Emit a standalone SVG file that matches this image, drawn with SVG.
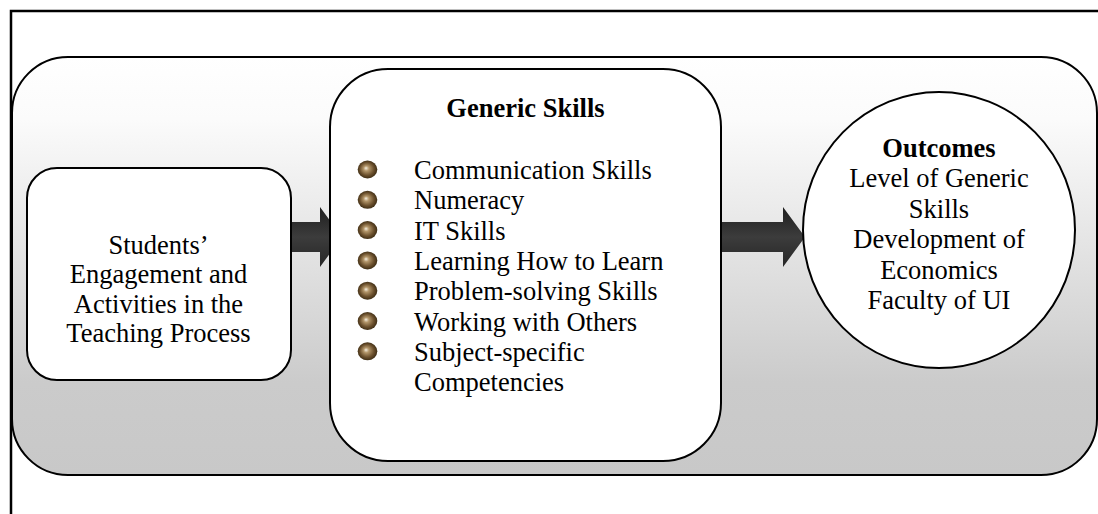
<svg xmlns="http://www.w3.org/2000/svg" width="1098" height="514" viewBox="0 0 1098 514">
  <defs>
    <linearGradient id="panelFill" x1="0" y1="0" x2="0" y2="1">
      <stop offset="0" stop-color="#ffffff"/>
      <stop offset="0.15" stop-color="#fbfbfb"/>
      <stop offset="0.78" stop-color="#cbcbcb"/>
      <stop offset="1" stop-color="#c8c8c8"/>
    </linearGradient>
    <linearGradient id="arrowFill" x1="0" y1="0" x2="0" y2="1">
      <stop offset="0" stop-color="#1e1e1e"/>
      <stop offset="0.5" stop-color="#3c3c3c"/>
      <stop offset="1" stop-color="#262626"/>
    </linearGradient>
    <radialGradient id="bead" cx="0.5" cy="0.5" r="0.55" fx="0.42" fy="0.42">
      <stop offset="0" stop-color="#f6efe0"/>
      <stop offset="0.25" stop-color="#b3966a"/>
      <stop offset="0.65" stop-color="#6a4f2c"/>
      <stop offset="1" stop-color="#33250f"/>
    </radialGradient>
    <symbol id="bullet" overflow="visible">
      <ellipse cx="0" cy="0" rx="9.8" ry="9" fill="url(#bead)"/>
    </symbol>
  </defs>
  <style>
    .box { fill: #ffffff; stroke: #000000; stroke-width: 2; }
    .txt { font-family: "Liberation Serif", "Times New Roman", serif; font-size: 26.5px; fill: #000000; }
    .mid { text-anchor: middle; }
    .bold { font-weight: bold; }
    .arrow { fill: url(#arrowFill); }
  </style>

  <rect width="1098" height="514" fill="#ffffff"/>

  <!-- outer frame -->
  <rect id="frame" x="11" y="11" width="1110" height="530" fill="none" stroke="#000000" stroke-width="2.5"/>

  <!-- background panel -->
  <rect id="panel" x="12" y="57" width="1085" height="418" rx="56" ry="56" fill="url(#panelFill)" stroke="#000000" stroke-width="2"/>

  <!-- connectors (drawn under the nodes) -->
  <g id="connectors">
    <path class="arrow" d="M 285 222 L 320 222 L 320 207 L 342 237 L 320 267 L 320 252 L 285 252 Z"/>
    <path class="arrow" d="M 718 222 L 783 222 L 783 207 L 805 237 L 783 267 L 783 252 L 718 252 Z"/>
  </g>

  <!-- input node -->
  <g id="engagement">
    <rect class="box" x="27" y="168" width="264" height="212" rx="30" ry="30"/>
    <text class="txt mid" x="158.5" y="254">Students’</text>
    <text class="txt mid" x="158.5" y="283.3">Engagement and</text>
    <text class="txt mid" x="158.5" y="312.6">Activities in the</text>
    <text class="txt mid" x="158.5" y="341.9">Teaching Process</text>
  </g>

  <!-- generic skills node -->
  <g id="generic-skills">
    <rect class="box" x="330" y="69" width="391" height="392" rx="58" ry="58"/>
    <text class="txt mid bold" x="525.5" y="117">Generic Skills</text>
    <use href="#bullet" x="367.5" y="169.5"/>
    <use href="#bullet" x="367.5" y="199.8"/>
    <use href="#bullet" x="367.5" y="230.1"/>
    <use href="#bullet" x="367.5" y="260.4"/>
    <use href="#bullet" x="367.5" y="290.7"/>
    <use href="#bullet" x="367.5" y="321"/>
    <use href="#bullet" x="367.5" y="351.3"/>
    <text class="txt" x="414" y="179">Communication Skills</text>
    <text class="txt" x="414" y="209.3">Numeracy</text>
    <text class="txt" x="414" y="239.6">IT Skills</text>
    <text class="txt" x="414" y="269.9">Learning How to Learn</text>
    <text class="txt" x="414" y="300.2">Problem-solving Skills</text>
    <text class="txt" x="414" y="330.5">Working with Others</text>
    <text class="txt" x="414" y="360.8">Subject-specific</text>
    <text class="txt" x="414" y="391.1">Competencies</text>
  </g>

  <!-- outcomes node -->
  <g id="outcomes">
    <ellipse class="box" cx="939" cy="230" rx="136" ry="138"/>
    <text class="txt mid bold" x="939" y="156.5">Outcomes</text>
    <text class="txt mid" x="939" y="187">Level of Generic</text>
    <text class="txt mid" x="939" y="217.5">Skills</text>
    <text class="txt mid" x="939" y="248">Development of</text>
    <text class="txt mid" x="939" y="278.5">Economics</text>
    <text class="txt mid" x="939" y="309">Faculty of UI</text>
  </g>
</svg>
